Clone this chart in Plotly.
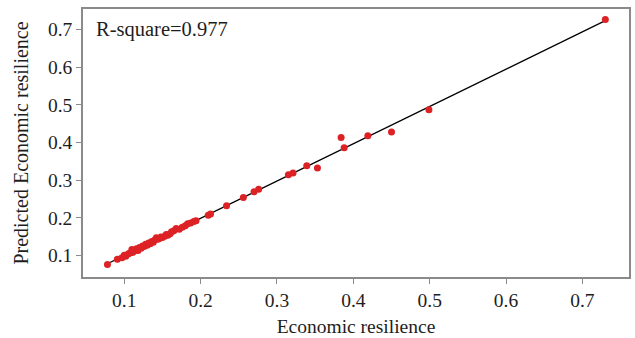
import numpy as np
import plotly.graph_objects as go

# Observed vs. model-predicted economic resilience
actual = [0.078, 0.091, 0.097, 0.100, 0.102, 0.105, 0.107, 0.110, 0.111, 0.113,
          0.116, 0.118, 0.120, 0.122, 0.124, 0.126, 0.128, 0.130, 0.132, 0.134,
          0.136, 0.138, 0.140, 0.142, 0.144, 0.146, 0.148, 0.150, 0.153, 0.155,
          0.157, 0.160, 0.162, 0.165, 0.168, 0.172, 0.176, 0.180, 0.183, 0.187,
          0.191, 0.194, 0.210, 0.213, 0.234, 0.256, 0.270, 0.276, 0.315, 0.321,
          0.339, 0.353, 0.384, 0.388, 0.419, 0.450, 0.499, 0.730]
predicted = [0.076, 0.090, 0.094, 0.101, 0.098, 0.104, 0.106, 0.116, 0.108, 0.112,
             0.118, 0.113, 0.121, 0.119, 0.125, 0.124, 0.130, 0.127, 0.133, 0.131,
             0.137, 0.135, 0.141, 0.147, 0.143, 0.145, 0.149, 0.148, 0.151, 0.156,
             0.154, 0.158, 0.163, 0.166, 0.172, 0.170, 0.175, 0.179, 0.184, 0.186,
             0.190, 0.192, 0.207, 0.210, 0.232, 0.254, 0.269, 0.276, 0.314, 0.319,
             0.338, 0.332, 0.413, 0.386, 0.418, 0.428, 0.487, 0.726]
r_square_label = "R-square=0.977"
x_ticks = [0.1, 0.2, 0.3, 0.4, 0.5, 0.6, 0.7]
y_ticks = [0.1, 0.2, 0.3, 0.4, 0.5, 0.6, 0.7]

# Least-squares fit line spanning the observed range
slope, intercept = np.polyfit(actual, predicted, 1)
fit_x = [min(actual), max(actual)]
fit_y = [intercept + slope * v for v in fit_x]

font_family = "Liberation Serif, Times New Roman, serif"
text_color = "#1e1e1e"
frame_color = "#8a8a8a"

fig = go.Figure()
fig.add_trace(go.Scatter(
    x=fit_x, y=fit_y, mode="lines",
    line=dict(color="black", width=1.3),
    showlegend=False, hoverinfo="skip",
))
fig.add_trace(go.Scatter(
    x=actual, y=predicted, mode="markers",
    marker=dict(color="#dd2226", size=7, line=dict(width=0)),
    showlegend=False,
))

fig.add_annotation(
    text=r_square_label, xref="paper", yref="paper",
    x=0.02, y=0.925, xanchor="left", yanchor="middle",
    showarrow=False, font=dict(family=font_family, size=20.5, color=text_color),
)

axis_common = dict(
    showline=True, mirror=True, linecolor=frame_color, linewidth=1.5,
    ticks="outside", ticklen=5, tickcolor=frame_color, tickwidth=1,
    showgrid=False, zeroline=False,
    tickfont=dict(family=font_family, size=19.5, color=text_color),
)

fig.update_layout(
    width=635, height=338,
    margin=dict(l=83, r=4, t=9, b=61),
    paper_bgcolor="white", plot_bgcolor="white",
    xaxis=dict(
        range=[0.046, 0.761], tickvals=x_ticks, ticktext=[f"{v:.1f}" for v in x_ticks],
        title=dict(text="Economic resilience", standoff=9,
                   font=dict(family=font_family, size=19.5, color=text_color)),
        **axis_common,
    ),
    yaxis=dict(
        range=[0.043, 0.754], tickvals=y_ticks, ticktext=[f"{v:.1f}" for v in y_ticks],
        title=dict(text="Predicted Economic resilience", standoff=14,
                   font=dict(family=font_family, size=20, color=text_color)),
        **axis_common,
    ),
)

fig.write_html("out.html")
